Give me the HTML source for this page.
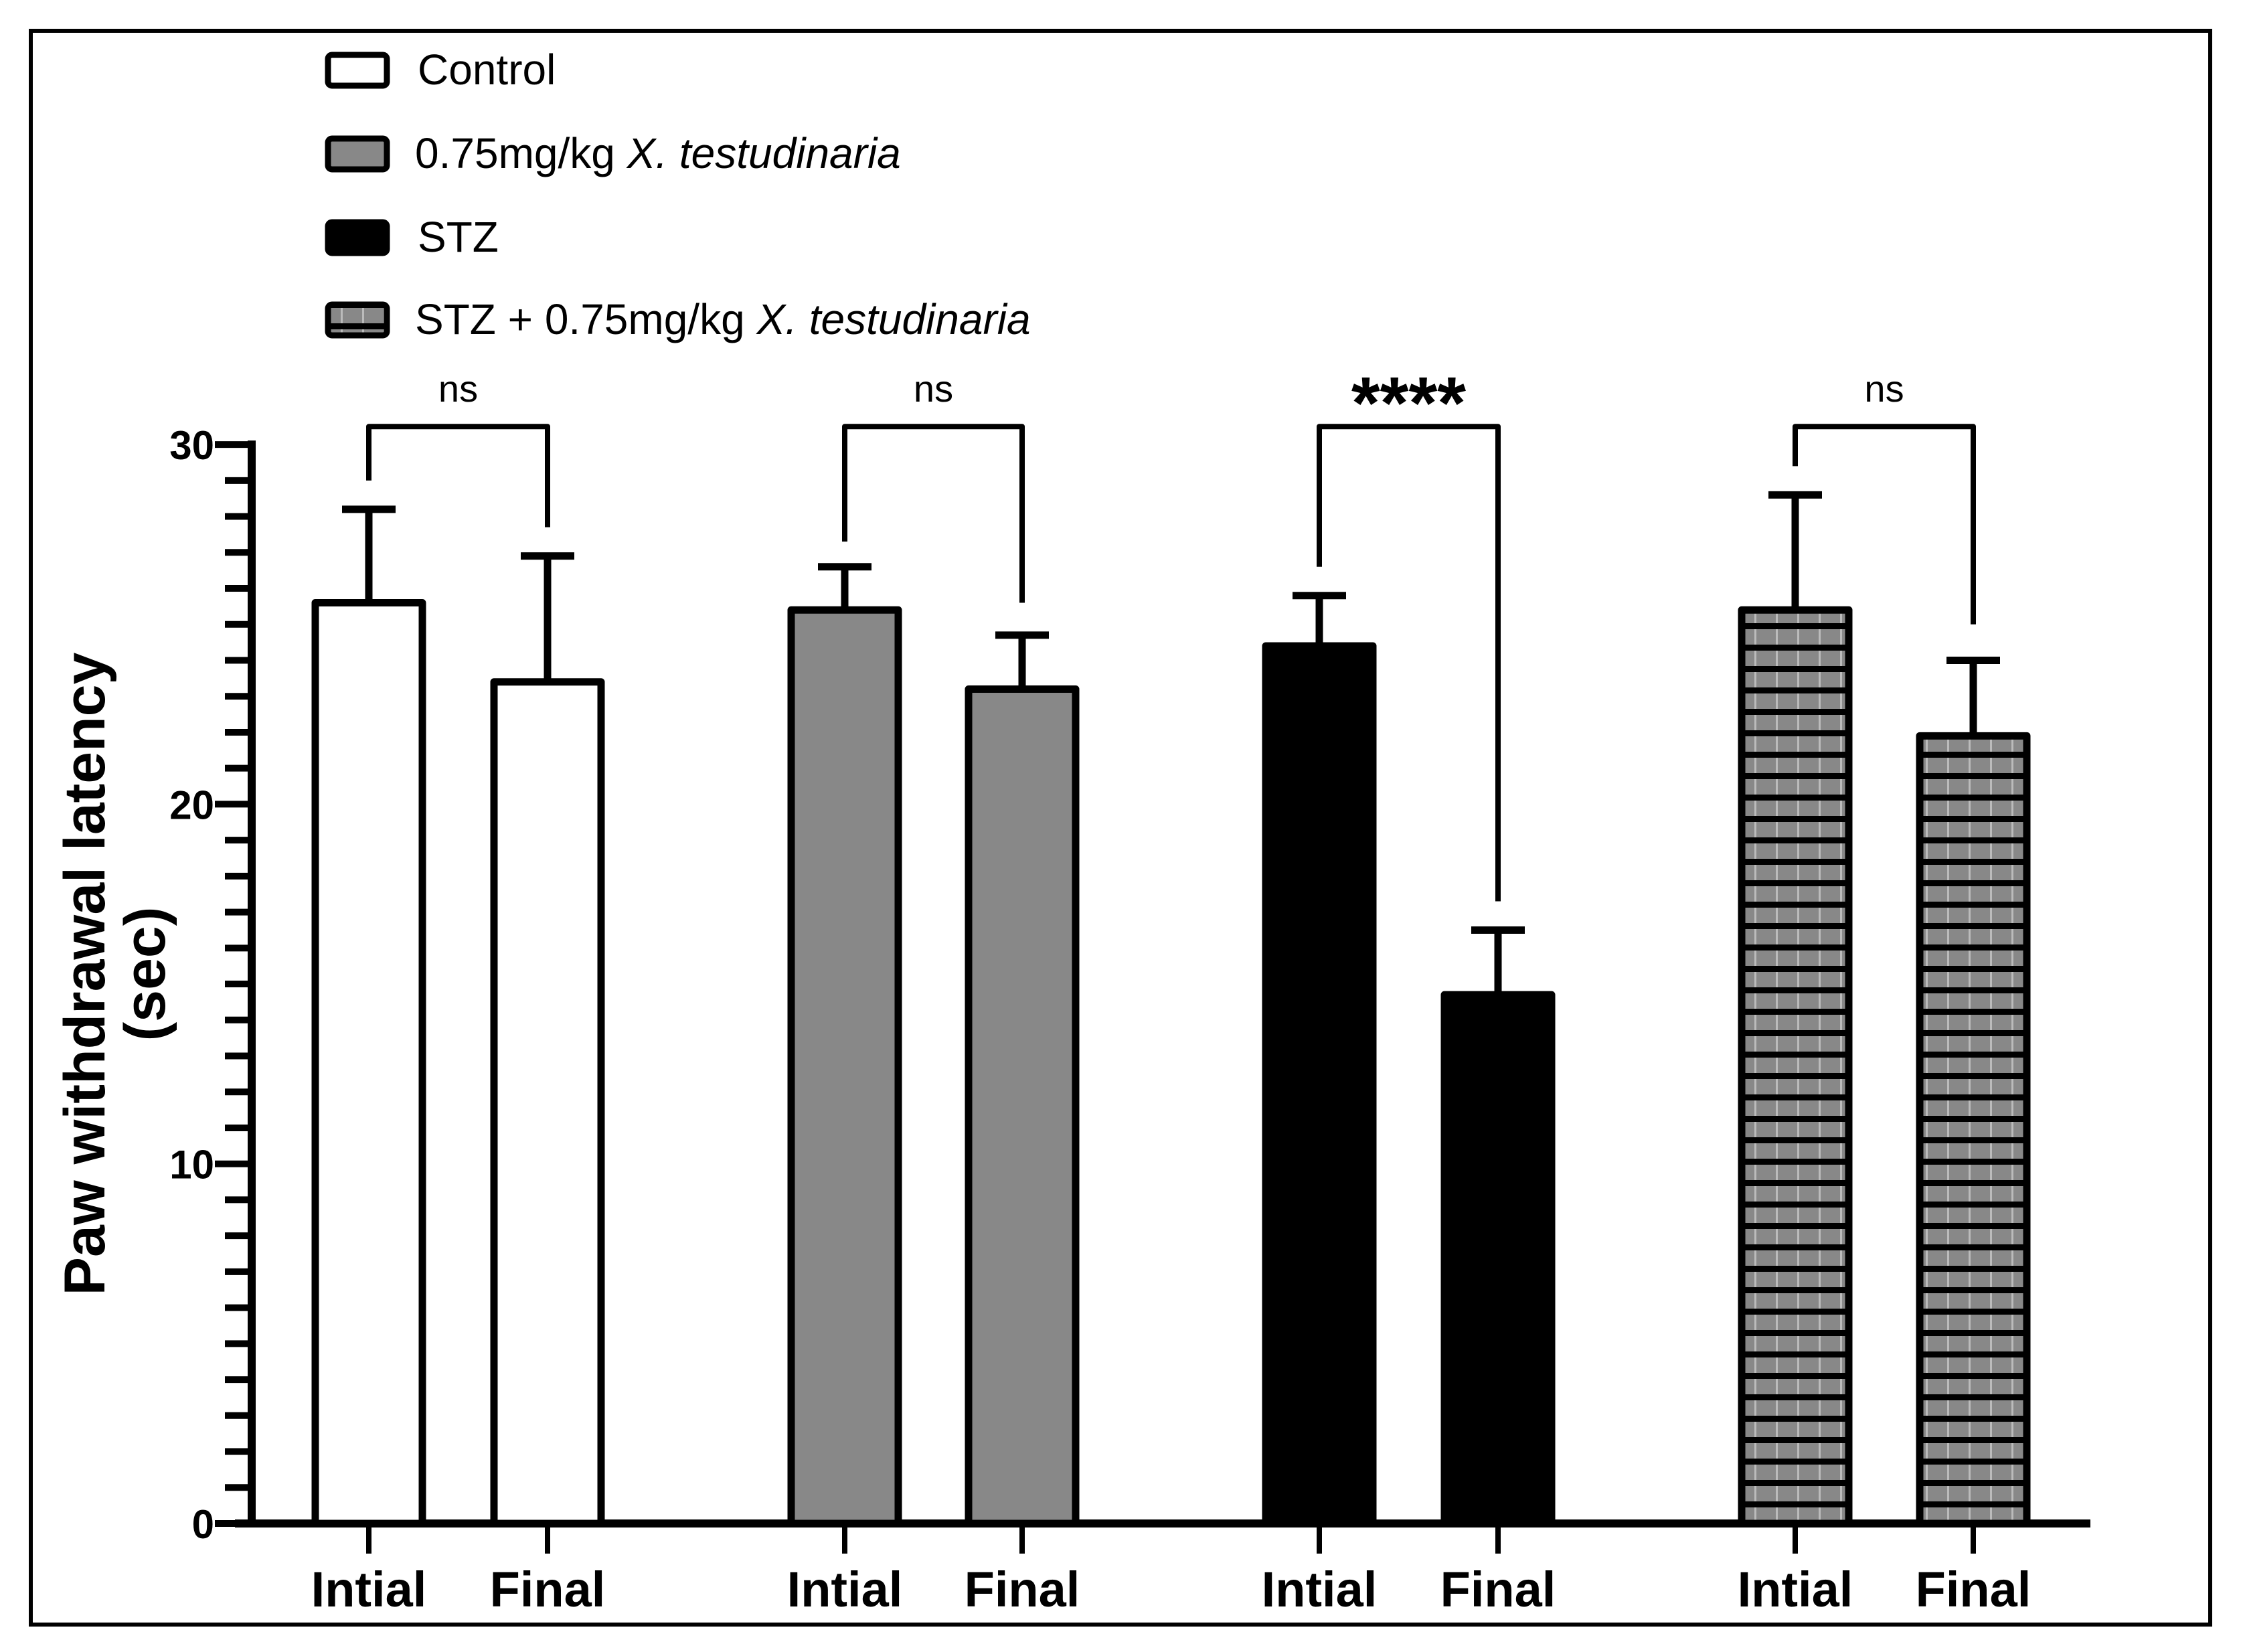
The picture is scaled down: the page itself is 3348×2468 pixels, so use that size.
<!DOCTYPE html>
<html><head><meta charset="utf-8"><style>
html,body{margin:0;padding:0;background:#fff;}
svg{display:block;font-family:"Liberation Sans",Arial,sans-serif;}
</style></head><body>
<svg id="chart" width="3348" height="2468" viewBox="0 0 3348 2468" xmlns="http://www.w3.org/2000/svg">
<defs>
<pattern id="hatch" patternUnits="userSpaceOnUse" width="32" height="32" x="0" y="12">
<rect width="32" height="32" fill="#888"/>
<rect x="0" y="23" width="32" height="9" fill="#000"/>
<rect x="29" y="0" width="3" height="23" fill="#bbb"/>
</pattern>
</defs>
<rect x="46" y="46" width="3256" height="2381" fill="#fff" stroke="#000" stroke-width="6"/>
<g id="legend">
<g><rect x="490" y="82" width="88" height="46" rx="6" fill="#fff" stroke="#000" stroke-width="9"/><text x="624" y="126" font-size="64">Control</text></g>
<g><rect x="490" y="207" width="88" height="46" rx="6" fill="#888" stroke="#000" stroke-width="9"/><text x="620" y="251" font-size="64">0.75mg/kg <tspan font-style="italic">X. testudinaria</tspan></text></g>
<g><rect x="490" y="332" width="88" height="46" rx="6" fill="#000" stroke="#000" stroke-width="9"/><text x="624" y="376" font-size="64">STZ</text></g>
<g><rect x="490" y="455" width="88" height="46" rx="6" fill="url(#hatch)" stroke="#000" stroke-width="9"/><text x="620" y="499" font-size="64">STZ + 0.75mg/kg <tspan font-style="italic">X. testudinaria</tspan></text></g>
</g>
<g id="axes"></g>
<g id="bars"></g>
<g id="sig"></g>
<text transform="translate(156,1455) rotate(-90)" text-anchor="middle" font-size="86" font-weight="bold">Paw withdrawal latency</text>
<text transform="translate(246,1455) rotate(-90)" text-anchor="middle" font-size="86" font-weight="bold">(sec)</text>
</svg>
<script>
const categories = ["Intial","Final","Intial","Final","Intial","Final","Intial","Final"];
const groups = ["control","control","xt","xt","stz","stz","stz-xt","stz-xt"];
const means = [25.6, 23.4, 25.4, 23.2, 24.4, 14.7, 25.4, 21.9];
const errors = [2.6, 3.5, 1.2, 1.5, 1.4, 1.8, 3.2, 2.1];
const yTicks = [0, 10, 20, 30];
const yTickLabels = ["0","10","20","30"];
const sigLabels = ["ns","ns","****","ns"];
const sigLegLeft = [29.0, 27.3, 26.6, 29.4];
const sigLegRight = [27.7, 25.6, 17.3, 25.0];

const NS = "http://www.w3.org/2000/svg";
const Y0 = 2276, PX_PER = 53.73, XAXIS = 376;
const centers = [551, 818, 1262, 1527, 1971, 2238, 2682, 2948];
const BW = 160;
function y(v){ return Y0 - v*PX_PER; }
function x(i){ return centers[i]; }
function mk(tag, attrs, parent){ const e=document.createElementNS(NS,tag); for(const k in attrs) e.setAttribute(k,attrs[k]); parent.appendChild(e); return e; }
const fills = {"control":"#fff","xt":"#888","stz":"#000","stz-xt":"url(#hatch)"};

const axes = document.getElementById('axes');
let a = mk('line',{x1:XAXIS,y1:y(30)-6,x2:XAXIS,y2:Y0+6,stroke:'#000','stroke-width':12},axes);


a = mk('line',{x1:XAXIS-25,y1:Y0,x2:3123,y2:Y0,stroke:'#000','stroke-width':12},axes);


for(let v=1; v<30; v++){
  if(v%10===0) continue;
  const t = mk('line',{x1:XAXIS-40,y1:y(v),x2:XAXIS,y2:y(v),stroke:'#000','stroke-width':10},axes);
  
  
}
yTicks.forEach((v,i)=>{
  const t = mk('line',{x1:XAXIS-55,y1:y(v),x2:XAXIS,y2:y(v),stroke:'#000','stroke-width':10},axes);
  
  
  const l = mk('text',{x:XAXIS-56,y:y(v)+22,'text-anchor':'end','font-size':60,'font-weight':'bold'},axes);
  l.textContent = yTickLabels[i];
  
  
});

const bars = document.getElementById('bars');
means.forEach((m,i)=>{
  const cx = x(i);
  const e = mk('line',{x1:cx,y1:y(m),x2:cx,y2:y(m+errors[i]),stroke:'#000','stroke-width':11},bars);
  
  
  const c = mk('line',{x1:cx-40,y1:y(m+errors[i]),x2:cx+40,y2:y(m+errors[i]),stroke:'#000','stroke-width':11},bars);
  
  
  const r = mk('rect',{x:cx-BW/2,y:y(m),width:BW,height:Y0-y(m),fill:fills[groups[i]],stroke:'#000','stroke-width':11,'stroke-linejoin':'round'},bars);
  
  
  const t = mk('line',{x1:cx,y1:Y0,x2:cx,y2:Y0+45,stroke:'#000','stroke-width':8},bars);
  
  
  const l = mk('text',{x:cx,y:2400,'text-anchor':'middle','font-size':74,'font-weight':'bold'},bars);
  l.textContent = categories[i];
  
  
});

const sig = document.getElementById('sig');
const BR = 30.5;
sigLabels.forEach((s,g)=>{
  const x1 = x(2*g), x2 = x(2*g+1);
  const p = mk('path',{d:`M${x1},${y(sigLegLeft[g])} V${y(BR)} H${x2} V${y(sigLegRight[g])}`,fill:'none',stroke:'#000','stroke-width':8,'stroke-linejoin':'round'},sig);
  
  
  const big = s.indexOf('*')>=0;
  const t = mk('text',{x:(x1+x2)/2,y: big?640:600,'text-anchor':'middle','font-size': big?110:56,'font-weight': big?'bold':'normal'},sig);
  t.textContent = s;
  
  
});
</script>
</body></html>
